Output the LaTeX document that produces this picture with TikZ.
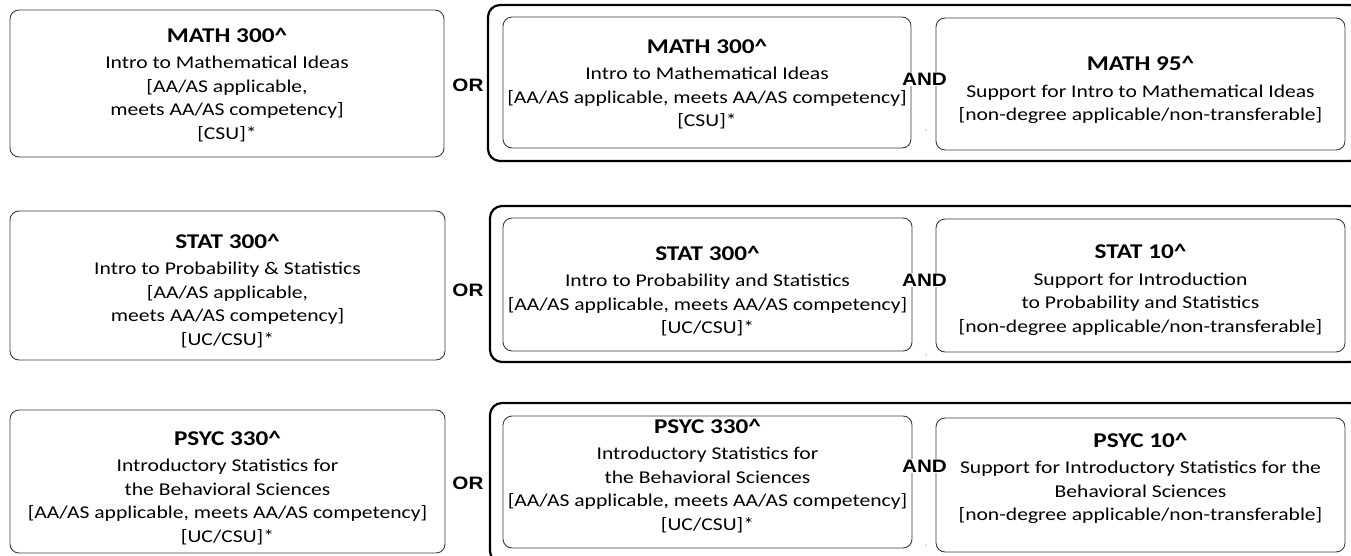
\documentclass[tikz,border=0pt]{standalone}
\usepackage{fontspec}
\setmainfont{Carlito}[FakeStretch=1.2]
\newfontfamily\arialf{Liberation Sans}[FakeStretch=1.15]
\definecolor{boxgray}{RGB}{60,60,60}
\newcommand\ttlf{\fontsize{21}{24}\selectfont\bfseries}
\begin{document}
\begin{tikzpicture}[x=1pt,y=-1pt,
  box/.style={draw=boxgray, line width=0.9pt, rounded corners=9pt, inner sep=0pt},
  txt/.style={align=center, inner sep=0pt, font=\fontsize{18}{23.5}\selectfont},
  outerbox/.style={draw=black, line width=2.2pt, rounded corners=12pt, inner sep=0pt},
  conj/.style={fill=white, inner sep=1pt, font=\arialf\bfseries\fontsize{18}{20}\selectfont},
  tinydot/.style={circle, fill=gray, inner sep=0pt, minimum size=1.4pt}
]
\useasboundingbox (0,0) rectangle (1351,556);
\clip (0,0) rectangle (1351,556);

% outer groups
\node[outerbox, minimum width=874pt, minimum height=156pt] (O1) at (925,83) {};
\node[outerbox, minimum width=872pt, minimum height=156pt] (O2) at (926,284) {};
\node[outerbox, minimum width=872pt, minimum height=160pt] (O3) at (926,483) {};

% left boxes
\node[box, minimum width=434pt, minimum height=147pt] (L1) at (227,83.5) {};
\node[box, minimum width=435pt, minimum height=149pt] (L2) at (227.5,285.5) {};
\node[box, minimum width=435pt, minimum height=143pt] (L3) at (227.5,481.5) {};
% inner A boxes
\node[box, minimum width=408pt, minimum height=131pt] (A1) at (707,82.5) {};
\node[box, minimum width=409pt, minimum height=133pt] (A2) at (707.5,284.5) {};
\node[box, minimum width=409pt, minimum height=132pt] (A3) at (707.5,482) {};
% inner B boxes
\node[box, minimum width=409pt, minimum height=132pt] (B1) at (1140.5,84) {};
\node[box, minimum width=409pt, minimum height=133pt] (B2) at (1140.5,285.5) {};
\node[box, minimum width=409pt, minimum height=134pt] (B3) at (1140.5,485) {};

% texts
\node[txt] (L1t) at (227,85)
  {{\ttlf MATH 300\textasciicircum}\\[3pt]
   Intro to Mathematical Ideas\\
   {[}AA/AS applicable,\\
   meets AA/AS competency]\\
   {[}CSU]*};
\node[txt] (L2t) at (227.5,291)
  {{\ttlf STAT 300\textasciicircum}\\[3pt]
   Intro to Probability \& Statistics\\
   {[}AA/AS applicable,\\
   meets AA/AS competency]\\
   {[}UC/CSU]*};
\node[txt] (L3t) at (227.5,488)
  {{\ttlf PSYC 330\textasciicircum}\\[3pt]
   Introductory Statistics for\\
   the Behavioral Sciences\\
   {[}AA/AS applicable, meets AA/AS competency]\\
   {[}UC/CSU]*};
\node[txt] (A1t) at (707,84)
  {{\ttlf MATH 300\textasciicircum}\\[3pt]
   Intro to Mathematical Ideas\\
   {[}AA/AS applicable, meets AA/AS competency]\\
   {[}CSU]*};
\node[txt] (A2t) at (707.5,291)
  {{\ttlf STAT 300\textasciicircum}\\[3pt]
   Intro to Probability and Statistics\\
   {[}AA/AS applicable, meets AA/AS competency]\\
   {[}UC/CSU]*};
\node[txt] (A3t) at (707.5,476)
  {{\ttlf PSYC 330\textasciicircum}\\[3pt]
   Introductory Statistics for\\
   the Behavioral Sciences\\
   {[}AA/AS applicable, meets AA/AS competency]\\
   {[}UC/CSU]*};
\node[txt] (B1t) at (1140.5,90)
  {{\ttlf MATH 95\textasciicircum}\\[3pt]
   Support for Intro to Mathematical Ideas\\
   {[}non-degree applicable/non-transferable]};
\node[txt] (B2t) at (1140.5,290)
  {{\ttlf STAT 10\textasciicircum}\\[3pt]
   Support for Introduction\\
   to Probability and Statistics\\
   {[}non-degree applicable/non-transferable]};
\node[txt] (B3t) at (1140.5,478.5)
  {{\ttlf PSYC 10\textasciicircum}\\[3pt]
   Support for Introductory Statistics for the\\
   Behavioral Sciences\\
   {[}non-degree applicable/non-transferable]};

% conjunctions
\node[conj] (or1) at (468,85) {OR};
\node[conj] (or2) at (468,290) {OR};
\node[conj] (or3) at (468,483) {OR};
\node[conj] (and1) at (924.5,79) {AND};
\node[conj] (and2) at (924.5,280) {AND};
\node[conj] (and3) at (924.5,466) {AND};

% tiny marks
\node[tinydot] (d1) at (926,130) {};
\node[tinydot] (d2) at (926,355) {};
\node[tinydot] (d3) at (926,545) {};
\end{tikzpicture}
\end{document}
